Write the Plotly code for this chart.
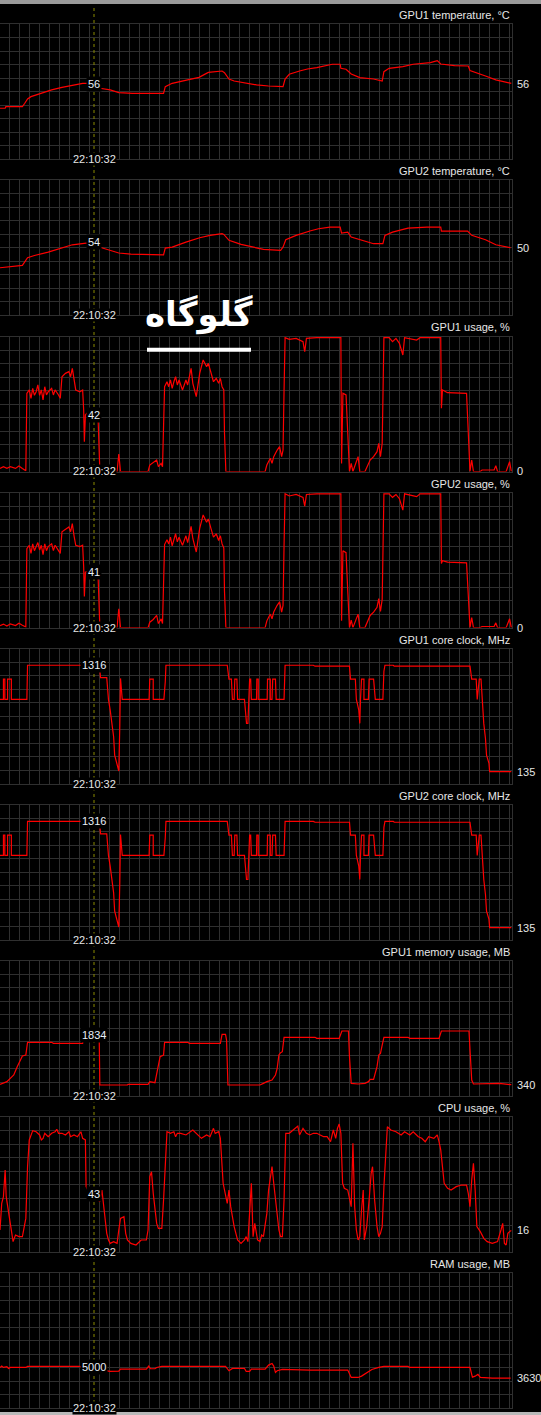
import plotly.graph_objects as go

# time axis: sample index, cursor at sample 273
T_MAX = 1487
CURSOR_T = 273
CURSOR_TIME = "22:10:32"

gpu1_temp_t = [0, 15, 17, 65, 72, 80, 90, 110, 150, 180, 210, 240, 255, 290, 320, 345, 385, 475, 480, 500,
               545, 578, 605, 645, 652, 665, 680, 720, 745, 780, 822, 828, 840, 870, 893, 920, 965, 988, 990,
               1005, 1020, 1045, 1085, 1110, 1115, 1130, 1170, 1200, 1250, 1270, 1280, 1320, 1360, 1365,
               1385, 1410, 1440, 1485]
gpu1_temp = [37.8, 37.8, 39.0, 39.0, 41.5, 44.7, 46.4, 48.1, 51.4, 53.3, 54.8, 56.3, 56.3, 52.6, 51.4, 49.4,
             48.9, 48.9, 53.8, 56.3, 58.8, 60.7, 64.4, 65.4, 64.2, 59.5, 58.0, 56.3, 55.1, 54.3, 53.8, 59.5,
             63.0, 65.4, 66.9, 67.9, 70.4, 70.4, 67.4, 66.7, 63.2, 60.5, 59.5, 58.0, 64.9, 67.4, 68.6, 70.4,
             71.6, 73.1, 70.6, 69.4, 69.1, 65.7, 63.7, 61.7, 58.8, 56.3]

gpu2_temp_t = [0, 65, 80, 100, 140, 180, 210, 250, 300, 325, 345, 380, 475, 480, 500, 540, 580, 610, 645, 650,
               665, 700, 740, 765, 815, 822, 830, 860, 900, 925, 958, 988, 992, 1010, 1020, 1050, 1085, 1112,
               1118, 1140, 1185, 1240, 1280, 1282, 1358, 1370, 1410, 1440, 1483]
gpu2_temp = [35.3, 37.0, 42.7, 44.4, 46.9, 50.1, 52.3, 53.6, 49.9, 48.1, 46.2, 45.4, 44.9, 49.9, 50.6, 54.3,
             57.5, 59.3, 60.5, 60.0, 55.6, 52.6, 50.6, 48.9, 48.1, 50.6, 56.0, 59.3, 62.5, 64.2, 65.4, 65.4,
             61.0, 61.7, 58.0, 55.6, 53.1, 53.1, 59.3, 61.7, 64.7, 65.4, 65.4, 62.5, 62.5, 59.3, 56.0, 52.3, 50.1]

gpu1_usage_t = [0, 10, 20, 30, 45, 55, 65, 75, 78, 85, 90, 95, 100, 105, 110, 115, 120, 125, 130, 135, 140,
                150, 155, 160, 170, 175, 180, 190, 200, 205, 210, 215, 220, 232, 240, 243, 245, 248, 252, 285,
                288, 290, 340, 345, 350, 430, 435, 445, 455, 460, 468, 472, 478, 485, 490, 495, 500, 505, 510,
                515, 520, 530, 540, 545, 555, 560, 570, 580, 590, 600, 605, 612, 620, 628, 635, 640, 645, 650,
                652, 656, 770, 775, 785, 790, 795, 805, 812, 818, 822, 825, 828, 840, 860, 880, 885, 890, 920,
                990, 992, 996, 1005, 1010, 1015, 1020, 1025, 1040, 1045, 1060, 1075, 1085, 1095, 1100, 1105,
                1110, 1115, 1130, 1140, 1150, 1160, 1170, 1175, 1210, 1220, 1280, 1282, 1285, 1300, 1355, 1360,
                1365, 1370, 1375, 1395, 1400, 1435, 1440, 1445, 1470, 1480, 1485]
gpu1_usage = [2.3, 3.6, 2.3, 3.6, 2.3, 4.1, 2.3, 0.6, 57.9, 60.4, 54.2, 61.6, 56.4, 59.1, 64.1, 56.4, 60.4,
              53.0, 62.8, 56.7, 59.1, 61.6, 56.7, 60.4, 56.7, 54.2, 70.2, 72.7, 74.0, 70.2, 76.4, 67.8, 60.4,
              59.1, 60.4, 45.6, 22.1, 41.9, 43.1, 38.1, 20.9, 0, 0, 13.0, 0, 0, 4.8, 6.5, 8.5, 3.6, 6.0, 3.6,
              62.8, 66.5, 62.8, 67.8, 61.6, 66.5, 70.2, 64.1, 67.8, 60.4, 67.8, 64.1, 76.4, 65.3, 55.4, 72.7,
              82.6, 77.7, 80.1, 73.9, 66.5, 69.0, 65.3, 69.0, 62.8, 60.4, 28.3, 0, 0, 4.8, 9.8, 6.0, 11.0,
              15.9, 18.4, 11.0, 15.9, 60.4, 99.1, 97.9, 98.6, 96.2, 88.8, 98.6, 99.1, 99.1, 6.0, 57.9, 56.7,
              28.3, 0, 6.0, 0, 11.0, 0, 0, 8.5, 11.0, 14.7, 20.9, 11.0, 20.9, 99.1, 99.1, 96.2, 98.6, 94.9,
              86.3, 99.1, 97.4, 99.1, 99.1, 46.8, 60.4, 58.4, 57.9, 25.8, 0, 8.5, 0, 0, 1.1, 1.1, 4.3, 0, 0,
              7.3, 0]

gpu2_usage_t = [0, 10, 20, 30, 45, 55, 65, 75, 78, 85, 90, 95, 100, 105, 110, 115, 120, 125, 130, 135, 140,
                150, 155, 160, 170, 175, 180, 190, 200, 205, 210, 215, 220, 232, 240, 243, 245, 248, 252, 285,
                288, 290, 340, 345, 350, 430, 435, 445, 455, 460, 468, 472, 478, 485, 490, 495, 500, 505, 510,
                515, 520, 530, 540, 545, 555, 560, 570, 580, 590, 600, 605, 612, 620, 628, 635, 640, 645, 650,
                652, 656, 770, 775, 785, 790, 795, 805, 812, 818, 822, 825, 828, 840, 860, 880, 885, 890, 920,
                990, 992, 996, 1005, 1010, 1015, 1020, 1025, 1040, 1045, 1060, 1075, 1085, 1095, 1100, 1105,
                1110, 1115, 1130, 1140, 1150, 1160, 1170, 1175, 1210, 1220, 1280, 1282, 1285, 1300, 1355, 1360,
                1365, 1370, 1375, 1395, 1400, 1435, 1440, 1445, 1470, 1480, 1485]
gpu2_usage = [1.5, 2.6, 1.2, 2.8, 1.5, 3.2, 1.8, 0.5, 58.5, 61.0, 55.0, 62.0, 57.0, 60.0, 63.0, 57.5, 61.0,
              54.0, 62.0, 57.0, 60.0, 62.0, 57.0, 61.0, 57.5, 55.0, 71.0, 73.0, 74.5, 71.0, 77.0, 68.0, 61.0,
              60.0, 61.0, 45.0, 23.0, 41.0, 41.5, 37.0, 19.5, 0, 0, 14.0, 0, 0, 4.0, 6.0, 9.0, 3.0, 6.5, 3.0,
              61.5, 65.0, 62.0, 67.0, 60.5, 66.0, 69.5, 63.5, 67.0, 61.0, 68.0, 63.0, 75.0, 66.0, 56.0, 73.5,
              83.5, 78.0, 80.5, 74.0, 67.0, 69.5, 64.5, 68.0, 62.0, 59.0, 27.0, 0, 0, 5.0, 10.0, 6.5, 11.5,
              16.5, 19.0, 11.5, 16.5, 61.0, 99.1, 97.5, 98.6, 96.5, 90.0, 98.6, 99.1, 99.1, 5.0, 57.0, 55.5,
              27.0, 0, 5.5, 0, 10.0, 0, 0, 9.0, 11.5, 15.0, 21.5, 12.0, 21.0, 99.1, 99.1, 96.5, 98.6, 95.5,
              87.0, 99.1, 97.0, 99.1, 99.1, 47.5, 49.5, 48.5, 48.0, 25.0, 0, 7.5, 0, 0, 0.8, 0.8, 3.5, 0, 0,
              6.5, 0]

gpu1_clock_t = [0, 10, 10, 14, 14, 22, 22, 33, 33, 78, 80, 235, 285, 290, 292, 310, 315, 320, 325, 330, 333,
                340, 345, 348, 350, 355, 433, 435, 445, 445, 476, 480, 482, 660, 662, 665, 672, 675, 680, 682,
                688, 690, 710, 713, 716, 720, 722, 725, 728, 730, 745, 746, 750, 750, 776, 777, 785, 785, 790,
                792, 800, 802, 825, 828, 910, 915, 1015, 1018, 1032, 1035, 1042, 1045, 1047, 1050, 1057, 1057,
                1070, 1072, 1085, 1090, 1112, 1115, 1118, 1142, 1145, 1365, 1370, 1383, 1386, 1392, 1397, 1400,
                1405, 1410, 1413, 1420, 1422, 1485]
gpu1_clock = [937, 937, 1163, 1163, 937, 937, 1163, 1163, 937, 937, 1316, 1316, 1316, 1263, 1178, 1178, 937,
              818, 670, 522, 318, 207, 141, 652, 1170, 937, 937, 1163, 1163, 937, 937, 1133, 1316, 1316, 1244,
              1163, 1163, 937, 937, 1163, 1163, 937, 937, 800, 670, 670, 937, 1163, 1163, 937, 937, 1163, 1163,
              937, 937, 1163, 1163, 937, 937, 1163, 1163, 937, 937, 1316, 1316, 1306, 1306, 1163, 1163, 937,
              818, 670, 937, 1163, 1163, 937, 937, 1163, 1163, 937, 937, 1250, 1316, 1316, 1306, 1306, 1163,
              1163, 937, 1163, 1163, 937, 670, 500, 318, 230, 135, 135]

gpu2_clock_t = list(gpu1_clock_t)
gpu2_clock = list(gpu1_clock)

gpu1_mem_t = [0, 10, 20, 35, 40, 50, 60, 65, 75, 80, 150, 155, 240, 243, 288, 290, 370, 372, 430, 435, 450,
              455, 460, 465, 475, 478, 545, 550, 640, 645, 655, 658, 662, 680, 685, 755, 765, 775, 790, 800,
              805, 810, 815, 820, 825, 915, 920, 985, 993, 1012, 1015, 1020, 1040, 1060, 1070, 1075, 1085,
              1090, 1095, 1100, 1105, 1110, 1115, 1185, 1190, 1275, 1282, 1362, 1365, 1370, 1375, 1445, 1450,
              1485]
gpu1_mem = [351, 381, 432, 583, 634, 887, 1140, 1211, 1241, 1625, 1625, 1594, 1594, 1834, 1834, 331, 331,
            351, 351, 432, 401, 634, 937, 1190, 1241, 1625, 1625, 1594, 1594, 1867, 1867, 1695, 331, 331, 351,
            331, 381, 432, 482, 634, 836, 1241, 1312, 1342, 1777, 1777, 1746, 1746, 1969, 1969, 1190, 381,
            361, 381, 432, 502, 502, 684, 887, 1241, 1291, 1544, 1777, 1777, 1746, 1746, 1969, 1969, 1493,
            482, 361, 361, 381, 340]

cpu_t = [0, 5, 10, 15, 18, 22, 30, 35, 38, 45, 55, 65, 70, 75, 80, 85, 95, 105, 115, 120, 125, 130, 140, 150,
         160, 165, 170, 180, 190, 200, 205, 215, 225, 235, 240, 248, 250, 255, 285, 290, 296, 300, 305, 310,
         315, 320, 330, 340, 345, 350, 360, 365, 370, 380, 395, 410, 425, 430, 435, 440, 445, 455, 460, 470,
         475, 480, 485, 495, 505, 510, 515, 525, 540, 560, 575, 585, 600, 610, 620, 625, 635, 640, 648, 655,
         660, 665, 670, 680, 690, 700, 710, 715, 720, 730, 735, 740, 748, 755, 760, 765, 770, 775, 780, 785,
         790, 795, 800, 805, 810, 815, 820, 825, 830, 840, 855, 865, 870, 880, 890, 900, 910, 920, 930, 940,
         950, 960, 968, 975, 980, 985, 990, 995, 1000, 1010, 1020, 1025, 1030, 1035, 1040, 1045, 1050, 1055,
         1058, 1065, 1072, 1078, 1082, 1088, 1095, 1100, 1105, 1110, 1115, 1120, 1125, 1135, 1150, 1165, 1175,
         1190, 1200, 1215, 1225, 1235, 1245, 1260, 1270, 1275, 1280, 1290, 1300, 1310, 1325, 1340, 1355, 1360,
         1365, 1370, 1375, 1380, 1385, 1395, 1405, 1415, 1430, 1445, 1450, 1455, 1460, 1465, 1470, 1475, 1480,
         1485]
cpu = [16.3, 36.0, 41.0, 60.7, 41.0, 33.6, 18.8, 11.4, 7.7, 12.6, 11.4, 11.4, 18.8, 24.9, 63.2, 83.0, 89.9,
       89.1, 86.7, 83.0, 84.2, 87.9, 85.4, 87.9, 89.1, 90.9, 87.9, 87.9, 86.7, 89.1, 85.4, 86.7, 85.4, 89.1,
       84.2, 83.0, 48.4, 45.9, 38.5, 37.3, 45.9, 36.0, 23.7, 13.8, 8.9, 6.4, 7.7, 6.4, 16.3, 24.9, 26.2, 13.8,
       8.9, 6.4, 5.2, 8.9, 8.9, 16.3, 55.8, 59.5, 43.5, 21.2, 17.5, 17.5, 38.5, 63.2, 89.1, 87.9, 89.1, 85.4,
       87.9, 87.9, 86.7, 90.4, 86.7, 84.2, 86.7, 85.4, 91.6, 87.9, 89.1, 84.2, 50.9, 41.0, 36.0, 45.9, 33.6,
       18.8, 8.9, 6.4, 8.9, 11.4, 7.7, 50.9, 11.4, 21.2, 8.9, 7.7, 12.6, 11.4, 18.8, 28.6, 45.9, 53.3, 63.2,
       50.9, 38.5, 28.6, 16.3, 11.4, 11.4, 38.5, 87.9, 87.9, 91.6, 93.3, 86.7, 91.6, 87.9, 86.7, 87.9, 87.9,
       86.7, 85.4, 85.4, 81.7, 90.4, 84.2, 91.6, 94.8, 87.9, 50.9, 47.2, 45.9, 33.6, 80.5, 33.6, 16.3, 8.9,
       11.4, 31.1, 45.9, 8.9, 18.8, 38.5, 58.3, 63.2, 38.5, 18.8, 11.4, 13.8, 18.8, 48.4, 75.6, 92.8, 90.4,
       89.1, 86.7, 89.1, 86.7, 89.1, 85.4, 84.2, 81.7, 85.4, 84.2, 86.7, 81.7, 75.6, 50.9, 47.2, 45.9, 48.4,
       49.6, 49.6, 43.5, 33.6, 53.3, 65.7, 45.9, 18.8, 15.1, 10.1, 7.7, 6.4, 7.7, 11.4, 16.3, 21.2, 6.4, 5.2,
       13.8, 15.1, 16.0]

ram_t = [0, 5, 10, 20, 25, 30, 75, 80, 230, 310, 320, 345, 350, 425, 432, 437, 450, 455, 470, 655, 665, 675,
         710, 715, 725, 730, 770, 780, 790, 795, 800, 805, 815, 820, 900, 1010, 1020, 1040, 1050, 1060, 1070,
         1080, 1100, 1115, 1185, 1190, 1365, 1372, 1380, 1388, 1395, 1405, 1430, 1483]
ram = [4935, 5097, 4935, 5016, 4814, 4935, 4935, 5056, 5056, 4530, 4450, 4490, 4733, 4733, 5097, 4773, 4773,
       4935, 5056, 5056, 4530, 4814, 4814, 4450, 4450, 4733, 4733, 5218, 5420, 5097, 4328, 4530, 4611, 4692,
       4611, 4611, 3721, 3721, 3883, 4126, 4409, 4692, 4935, 5056, 5056, 4935, 4935, 3760, 3880, 4100, 3720,
       3700, 3630, 3630]

panels = [
    ("GPU1 temperature, °C", gpu1_temp_t, gpu1_temp, 100, "56", 56, "56", 56),
    ("GPU2 temperature, °C", gpu2_temp_t, gpu2_temp, 100, "54", 54, "50", 50),
    ("GPU1 usage, %", gpu1_usage_t, gpu1_usage, 100, "42", 42, "0", 0),
    ("GPU2 usage, %", gpu2_usage_t, gpu2_usage, 100, "41", 41, "0", 0),
    ("GPU1 core clock, MHz", gpu1_clock_t, gpu1_clock, 1500, "1316", 1316, "135", 135),
    ("GPU2 core clock, MHz", gpu2_clock_t, gpu2_clock, 1500, "1316", 1316, "135", 135),
    ("GPU1 memory usage, MB", gpu1_mem_t, gpu1_mem, 4096, "1834", 1834, "340", 340),
    ("CPU usage, %", cpu_t, cpu, 100, "43", 43, "16", 16),
    ("RAM usage, MB", ram_t, ram, 16384, "5000", 5000, "3630", 3630),
]

W, H = 541, 1415
GRID_RIGHT = 512
TOP0, PITCH, PH = 24.3, 156.1, 135
GRID = '#2f2f2f'
TXT = '#e6e6e6'
FONT = 'Liberation Sans'

fig = go.Figure()
annotations = []
layout = {}

for i, (title, t, v, ymax, cur_txt, cur_v, end_txt, end_v) in enumerate(panels):
    n = i + 1
    top = TOP0 + PITCH * i
    bot = top + PH
    xa, ya = ('xaxis' if n == 1 else f'xaxis{n}'), ('yaxis' if n == 1 else f'yaxis{n}')
    xr, yr = ('x' if n == 1 else f'x{n}'), ('y' if n == 1 else f'y{n}')
    layout[xa] = dict(domain=[0, GRID_RIGHT / W], range=[0, T_MAX], dtick=29, tick0=0,
                      showgrid=True, gridcolor=GRID, gridwidth=1, zeroline=False,
                      showline=True, mirror=True, linecolor=GRID, showticklabels=False,
                      ticks='', anchor=yr, fixedrange=True)
    layout[ya] = dict(domain=[1 - bot / H, 1 - top / H], range=[0, ymax], dtick=ymax / 10,
                      showgrid=True, gridcolor=GRID, gridwidth=1, zeroline=False,
                      showline=True, mirror=True, linecolor=GRID, showticklabels=False,
                      ticks='', anchor=xr, fixedrange=True)
    fig.add_trace(go.Scatter(x=t, y=v, mode='lines', line=dict(color='#ff0000', width=1.2),
                             xaxis=xr, yaxis=yr, hoverinfo='skip', showlegend=False))
    # panel title
    annotations.append(dict(text=title, xref='paper', yref='paper', x=GRID_RIGHT / W,
                            y=1 - (top - 9) / H, xanchor='right', yanchor='middle', showarrow=False,
                            font=dict(family=FONT, size=11, color=TXT)))
    # cursor time
    annotations.append(dict(text=CURSOR_TIME, xref=xr, yref='paper', x=CURSOR_T, y=1 - bot / H,
                            xanchor='center', yanchor='middle', showarrow=False, bgcolor='black',
                            borderpad=0, font=dict(family=FONT, size=11, color=TXT)))
    # cursor value
    annotations.append(dict(text=cur_txt, xref=xr, yref=yr, x=CURSOR_T, y=cur_v,
                            xanchor='center', yanchor='middle', showarrow=False, bgcolor='black',
                            borderpad=1, font=dict(family=FONT, size=11, color='#e8eef8')))
    # current value on the right
    annotations.append(dict(text=end_txt, xref='paper', yref=yr, x=515 / W, y=end_v,
                            xanchor='left', yanchor='middle', showarrow=False,
                            font=dict(family=FONT, size=11, color=TXT)))

# overlay caption
annotations.append(dict(text='<b>گلوگاه</b>', xref='paper', yref='paper', x=199 / W, y=1 - 314 / H,
                        xanchor='center', yanchor='middle', showarrow=False,
                        font=dict(family='DejaVu Sans', size=34, color='white')))

shapes = [
    dict(type='line', xref='x', yref='paper', x0=CURSOR_T, x1=CURSOR_T, y0=0, y1=1 - 5 / H,
         line=dict(color='#8a8a00', width=1, dash='3px,3px'), layer='above'),
    dict(type='line', xref='paper', yref='paper', x0=147 / W, x1=251 / W, y0=1 - 349.7 / H,
         y1=1 - 349.7 / H, line=dict(color='white', width=4), layer='above'),
    dict(type='rect', xref='paper', yref='paper', x0=0, x1=1, y0=1 - 4 / H, y1=1,
         fillcolor='#9a9a9a', line=dict(width=0), layer='above'),
    dict(type='rect', xref='paper', yref='paper', x0=0, x1=1, y0=0, y1=3 / H,
         fillcolor='#b8b8b8', line=dict(width=0), layer='above'),
]

fig.update_layout(**layout, width=W, height=H, margin=dict(l=0, r=0, t=0, b=0),
                  paper_bgcolor='black', plot_bgcolor='black', showlegend=False,
                  annotations=annotations, shapes=shapes)

# drop the default page margin so the figure sits at the window's corner
fig.write_html("out.html", config={'displayModeBar': False},
               post_script="document.body.style.margin='0';document.body.style.background='black';")
